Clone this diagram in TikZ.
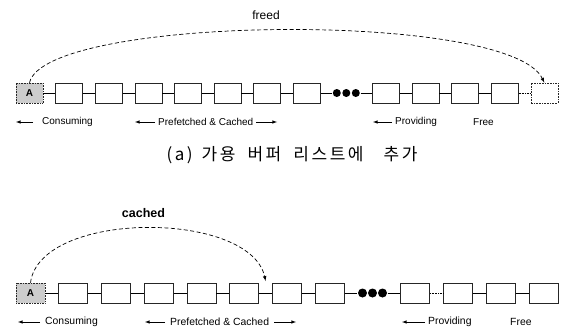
\documentclass[tikz,border=0pt]{standalone}
\usepackage{fontspec}
\setmainfont{Liberation Sans}
\newfontfamily\krfont[LetterSpace=15]{Noto Sans CJK KR}
\usetikzlibrary{arrows,calc}
\tikzset{>=latex}
\tikzset{
  buf/.style={draw=black!85,line width=0.6pt,minimum width=27pt,minimum height=20pt,inner sep=0pt},
  wbuf/.style={buf,minimum width=29pt},
  headbuf/.style={fill=black!20,densely dotted,font=\fontsize{10}{12}\selectfont\bfseries},
  freebuf/.style={buf,densely dotted},
  dotgap/.style={minimum width=28pt,minimum height=9pt,inner sep=0pt},
  link/.style={line width=0.6pt},
  move/.style={dash pattern=on 4pt off 2.5pt,line width=0.7pt,->},
  lbl/.style={font=\fontsize{10}{12}\selectfont,inner sep=0pt,anchor=west},
  lblarrow/.style={->,line width=0.6pt},
}

\begin{document}
\begin{tikzpicture}[x=1pt,y=-1pt]
  \useasboundingbox (0,0) rectangle (562,329);

  % Buffers (a)
  \node[buf,headbuf] (a0) at (29.5,93) {A};
  \node[buf] (a1) at (69.1,93) {};
  \node[buf] (a2) at (108.7,93) {};
  \node[buf] (a3) at (148.3,93) {};
  \node[buf] (a4) at (187.9,93) {};
  \node[buf] (a5) at (227.5,93) {};
  \node[buf] (a6) at (267.1,93) {};
  \node[buf] (a7) at (306.7,93) {};
  \node[dotgap] (a8) at (346.3,93) {};
  \node[buf] (a9) at (385.9,93) {};
  \node[buf] (a10) at (425.5,93) {};
  \node[buf] (a11) at (465.1,93) {};
  \node[buf] (a12) at (504.7,93) {};
  \node[freebuf] (a13) at (544.3,93) {};

  % Links (a)
  \draw[link] (a0) -- (a1) (a1) -- (a2) (a2) -- (a3) (a3) -- (a4) (a4) -- (a5)
    (a5) -- (a6) (a6) -- (a7) (a7) -- (a8) (a8) -- (a9) (a9) -- (a10)
    (a10) -- (a11) (a11) -- (a12);
  \draw[link,densely dotted] (a12) -- (a13);
  \fill (a8) circle (4pt) ($(a8)+(-9.5,0)$) circle (4pt) ($(a8)+(9.5,0)$) circle (4pt);
  \draw[move] (a0.north) .. controls (45,15) and (510,10) .. (a13.north);

  % Labels (a)
  \node[lbl,anchor=center,font=\fontsize{12}{14}\selectfont] (freed) at (266,15) {freed};
  \coordinate (ca) at (16,122);
  \coordinate (pa1) at (135,122);
  \coordinate (pa2) at (277,122);
  \coordinate (va) at (373,122);
  \node[lbl] (consa) at (42,122) {Consuming};
  \node[lbl] (prefa) at (158,122) {Prefetched \& Cached};
  \node[lbl] (prova) at (395,122) {Providing};
  \node[lbl] (freea) at (473,122) {Free};
  \draw[lblarrow,shorten <=9pt] (consa.west) -- (ca);
  \draw[lblarrow,shorten <=3pt] (prefa.west) -- (pa1);
  \draw[lblarrow,shorten <=3pt] (prefa.east) -- (pa2);
  \draw[lblarrow,shorten <=3pt] (prova.west) -- (va);
  \node[font=\krfont\fontsize{17}{19}\selectfont,inner sep=0pt] (capa) at (292,155)
    {(a)\hspace{9pt}가용\hspace{12pt}버퍼\hspace{12pt}리스트에\hspace{20pt}추가};

  % Buffers (b)
  \node[wbuf,headbuf] (b0) at (30.5,293) {A};
  \node[wbuf] (b1) at (73.25,293) {};
  \node[wbuf] (b2) at (116,293) {};
  \node[wbuf] (b3) at (158.75,293) {};
  \node[wbuf] (b4) at (201.5,293) {};
  \node[wbuf] (b5) at (244.25,293) {};
  \node[wbuf] (b6) at (287,293) {};
  \node[wbuf] (b7) at (329.75,293) {};
  \node[dotgap,minimum width=30pt] (b8) at (372.5,293) {};
  \node[wbuf] (b9) at (415.25,293) {};
  \node[wbuf] (b10) at (458,293) {};
  \node[wbuf] (b11) at (500.75,293) {};
  \node[wbuf] (b12) at (543.5,293) {};

  % Links (b)
  \draw[link] (b0) -- (b1) (b1) -- (b2) (b2) -- (b3) (b3) -- (b4) (b4) -- (b5)
    (b5) -- (b6) (b6) -- (b7) (b7) -- (b8) (b8) -- (b9) (b10) -- (b11) (b11) -- (b12);
  \draw[link,densely dotted] (b9) -- (b10);
  \fill (b8) circle (4.5pt) ($(b8)+(-10,0)$) circle (4.5pt) ($(b8)+(10,0)$) circle (4.5pt);
  \coordinate (bin) at ($(b5.east)!0.5!(b6.west)+(0,-12)$);
  \draw[move] (b0.north) .. controls (40,210) and (250,210) .. (bin);

  % Labels (b)
  \node[lbl,anchor=center,font=\fontsize{12.5}{14}\selectfont\bfseries] (cached) at (143.5,213) {cached};
  \coordinate (cb) at (18,322);
  \coordinate (pb1) at (145,322);
  \coordinate (pb2) at (296,322);
  \coordinate (vb) at (402,322);
  \node[lbl,font=\fontsize{10.4}{12}\selectfont] (consb) at (45,322) {Consuming};
  \node[lbl,font=\fontsize{10.4}{12}\selectfont] (prefb) at (170,322) {Prefetched \& Cached};
  \node[lbl,font=\fontsize{10.4}{12}\selectfont] (provb) at (428,322) {Providing};
  \node[lbl,font=\fontsize{10.4}{12}\selectfont] (freeb) at (510,322) {Free};
  \draw[lblarrow,shorten <=5pt] (consb.west) -- (cb);
  \draw[lblarrow,shorten <=5pt] (prefb.west) -- (pb1);
  \draw[lblarrow,shorten <=5pt] (prefb.east) -- (pb2);
  \draw[lblarrow,shorten <=3pt] (provb.west) -- (vb);
\end{tikzpicture}
\end{document}
